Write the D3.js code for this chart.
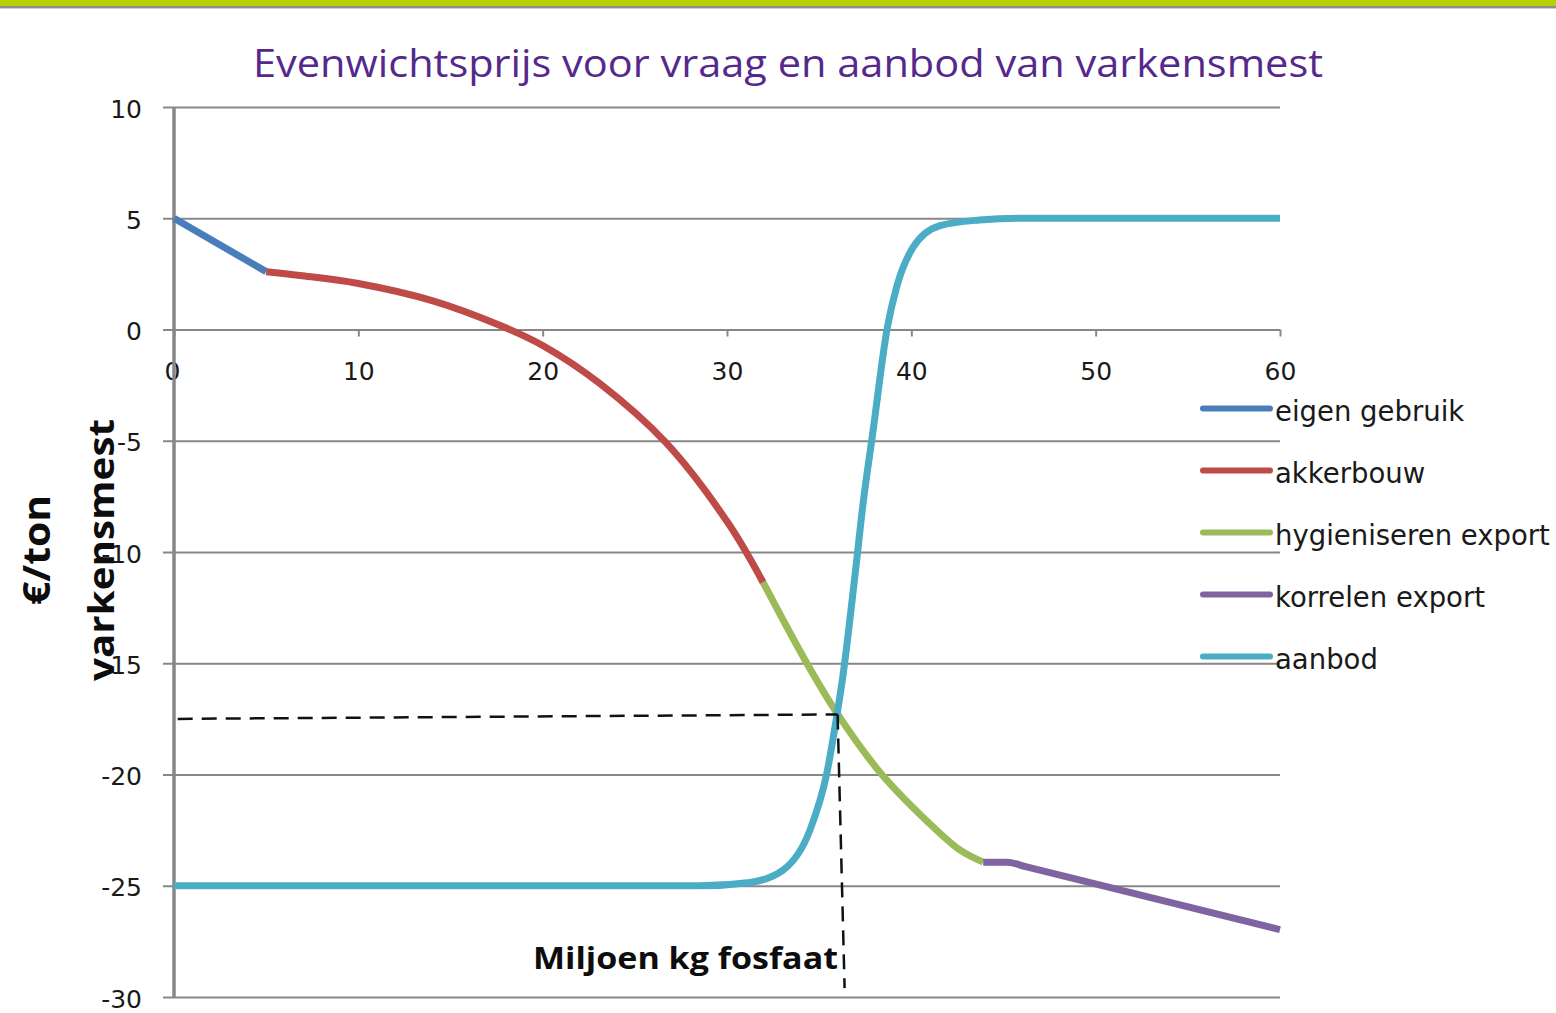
<!DOCTYPE html>
<html>
<head>
<meta charset="utf-8">
<script src="https://cdn.jsdelivr.net/npm/d3@7"></script>
<style>
  html, body { margin: 0; padding: 0; background: #fff; }
  svg { display: block; }
</style>
</head>
<body>
<svg id="chart" width="1556" height="1013"></svg>
<script>
// ---- data ----
const titleText = "Evenwichtsprijs voor vraag en aanbod van varkensmest";
const xTicks = [0, 10, 20, 30, 40, 50, 60];
const yTicks = [10, 5, 0, -5, -10, -15, -20, -25, -30];
const seriesNames = ["eigen gebruik", "akkerbouw", "hygieniseren export", "korrelen export", "aanbod"];
const seriesColors = ["#4a7ebb", "#be4b48", "#9bbb59", "#8064a2", "#4bacc6"];

const eigenX = [0, 5];
const eigenY = [5, 2.6];
const akkerX = [5, 6.84, 10, 14, 17.7, 20, 23.1, 26.7, 30.06, 31.96];
const akkerY = [2.6, 2.43, 2.07, 1.3, 0.18, -0.72, -2.43, -5.1, -8.7, -11.37];
const hygX = [31.96, 34.33, 36.01, 38.4, 41.2, 42.65, 43.9];
const hygY = [-11.37, -15, -17.3, -20.0, -22.37, -23.4, -23.94];
const korrX = [43.9, 45.2, 46.2, 60];
const korrY = [-23.94, -23.94, -24.14, -26.97];
const aanbodX = [0, 28.5, 31.25, 33.04, 34.5, 35.4, 35.97, 36.25, 36.95, 37.4, 37.9, 38.7, 39.2, 40.1, 41.56, 43.7, 46, 60];
const aanbodY = [-25, -25, -24.85, -24.3, -22.5, -20, -17.3, -15.8, -11, -7.7, -4.7, 0.1, 1.9, 3.7, 4.67, 4.92, 5, 5];
const eqHX = [0.2, 36.0];
const eqHY = [-17.5, -17.3];
const eqVX = [36.0, 36.38];
const eqVY = [-17.3, -29.6];
const xTitle = "Miljoen kg fosfaat";
const yTitle = ["€/ton", "varkensmest"];

// ---- layout ----
const svg = d3.select("#chart");
const plotLeft = 174, plotRight = 1280, plotTop = 107, plotBottom = 997;
const x = d3.scaleLinear().domain([0, 60]).range([plotLeft, plotRight]);
const y = d3.scaleLinear().domain([-30, 10]).range([plotBottom, plotTop]);
const gridColor = "#878787";
const fmt = d => String(d);

// top banner
svg.append("rect").attr("x", 0).attr("y", 0).attr("width", 1556).attr("height", 6).attr("fill", "#b9cf00");
svg.append("rect").attr("x", 0).attr("y", 6).attr("width", 1556).attr("height", 2).attr("fill", "#8e8e8e");
svg.append("rect").attr("x", 0).attr("y", 8).attr("width", 1556).attr("height", 1).attr("fill", "#d0d0d0");

// title
svg.append("text")
  .attr("x", 253).attr("y", 77)
  .attr("textLength", 1070).attr("lengthAdjust", "spacingAndGlyphs")
  .style("font-family", "'Open Sans', sans-serif").style("font-size", "38px")
  .style("fill", "#55298c")
  .text(titleText);

// y axis with gridlines
const yAxis = d3.axisLeft(y).tickValues(yTicks).tickFormat(fmt).tickSizeOuter(0).tickSizeInner(0).tickPadding(32);
const gy = svg.append("g").attr("transform", `translate(${plotLeft},0)`).call(yAxis);
gy.select(".domain").remove();
gy.selectAll(".tick line")
  .attr("x1", -11).attr("x2", plotRight - plotLeft)
  .attr("stroke", gridColor).attr("stroke-width", 2);
gy.selectAll(".tick text")
  .style("font-family", "'DejaVu Sans', sans-serif").style("font-size", "25px")
  .style("fill", "#1a1a1a").attr("dy", "0.4em");

// x axis at y=0
const xAxis = d3.axisBottom(x).tickValues(xTicks).tickFormat(fmt).tickSizeOuter(0).tickSizeInner(7).tickPadding(30);
const gx = svg.append("g").attr("transform", `translate(0,${y(0)})`).call(xAxis);
gx.select(".domain").remove();
gx.selectAll(".tick line").attr("stroke", gridColor).attr("stroke-width", 2);
gx.selectAll(".tick text")
  .style("font-family", "'DejaVu Sans', sans-serif").style("font-size", "25px")
  .style("fill", "#1a1a1a").attr("dy", "0.35em").attr("y", 42);
gx.selectAll(".tick").filter(d => d === 0).select("text").attr("dx", -2);

// vertical axis line
svg.append("line")
  .attr("x1", x(0)).attr("x2", x(0)).attr("y1", y(10)).attr("y2", y(-30))
  .attr("stroke", gridColor).attr("stroke-width", 3.5);

// series
const zip = (xs, ys) => xs.map((v, i) => [v, ys[i]]);
const series = [
  { data: zip(eigenX, eigenY), curve: d3.curveLinear },
  { data: zip(akkerX, akkerY), curve: d3.curveCatmullRom.alpha(0.5) },
  { data: zip(hygX, hygY), curve: d3.curveCatmullRom.alpha(0.5) },
  { data: zip(korrX, korrY), curve: d3.curveMonotoneX },
  { data: zip(aanbodX, aanbodY), curve: d3.curveMonotoneX }
];
series.forEach((s, i) => {
  const line = d3.line().x(d => x(d[0])).y(d => y(d[1])).curve(s.curve);
  svg.append("path")
    .attr("d", line(s.data))
    .attr("fill", "none")
    .attr("stroke", seriesColors[i])
    .attr("stroke-width", 7)
    .attr("stroke-linecap", "butt")
    .attr("stroke-linejoin", "round");
});

// equilibrium dashed lines
const dashLine = d3.line().x(d => x(d[0])).y(d => y(d[1]));
[zip(eqHX, eqHY), zip(eqVX, eqVY)].forEach(pts => {
  svg.append("path")
    .attr("d", dashLine(pts))
    .attr("fill", "none")
    .attr("stroke", "#111")
    .attr("stroke-width", 2.5)
    .attr("stroke-dasharray", "15,9");
});

// x title
svg.append("text")
  .attr("x", 533).attr("y", 969)
  .attr("textLength", 305).attr("lengthAdjust", "spacingAndGlyphs")
  .style("font-family", "'Open Sans', sans-serif").style("font-weight", "bold").style("font-size", "31px")
  .style("fill", "#0d0d0d")
  .text(xTitle);

// y title (two lines, rotated)
const yt = svg.append("g").attr("transform", "translate(0,550) rotate(-90)");
yt.append("text")
  .attr("x", 0).attr("y", 37).attr("dy", "0.35em")
  .attr("text-anchor", "middle")
  .attr("textLength", 110).attr("lengthAdjust", "spacingAndGlyphs")
  .style("font-family", "'Open Sans', sans-serif").style("font-weight", "bold").style("font-size", "37px")
  .style("fill", "#0d0d0d")
  .text(yTitle[0]);
yt.append("text")
  .attr("x", 0).attr("y", 101).attr("dy", "0.35em")
  .attr("text-anchor", "middle")
  .attr("textLength", 262).attr("lengthAdjust", "spacingAndGlyphs")
  .style("font-family", "'Open Sans', sans-serif").style("font-weight", "bold").style("font-size", "36px")
  .style("fill", "#0d0d0d")
  .text(yTitle[1]);

// legend
const lg = svg.append("g");
seriesNames.forEach((name, i) => {
  const ly = 408.5 + i * 62;
  lg.append("line")
    .attr("x1", 1203).attr("x2", 1270).attr("y1", ly).attr("y2", ly)
    .attr("stroke", seriesColors[i]).attr("stroke-width", 6).attr("stroke-linecap", "round");
  lg.append("text")
    .attr("x", 1275).attr("y", ly + 12)
    .style("font-family", "'DejaVu Sans', sans-serif").style("font-size", "27.5px")
    .style("fill", "#1a1a1a")
    .text(name);
});
</script>
</body>
</html>
